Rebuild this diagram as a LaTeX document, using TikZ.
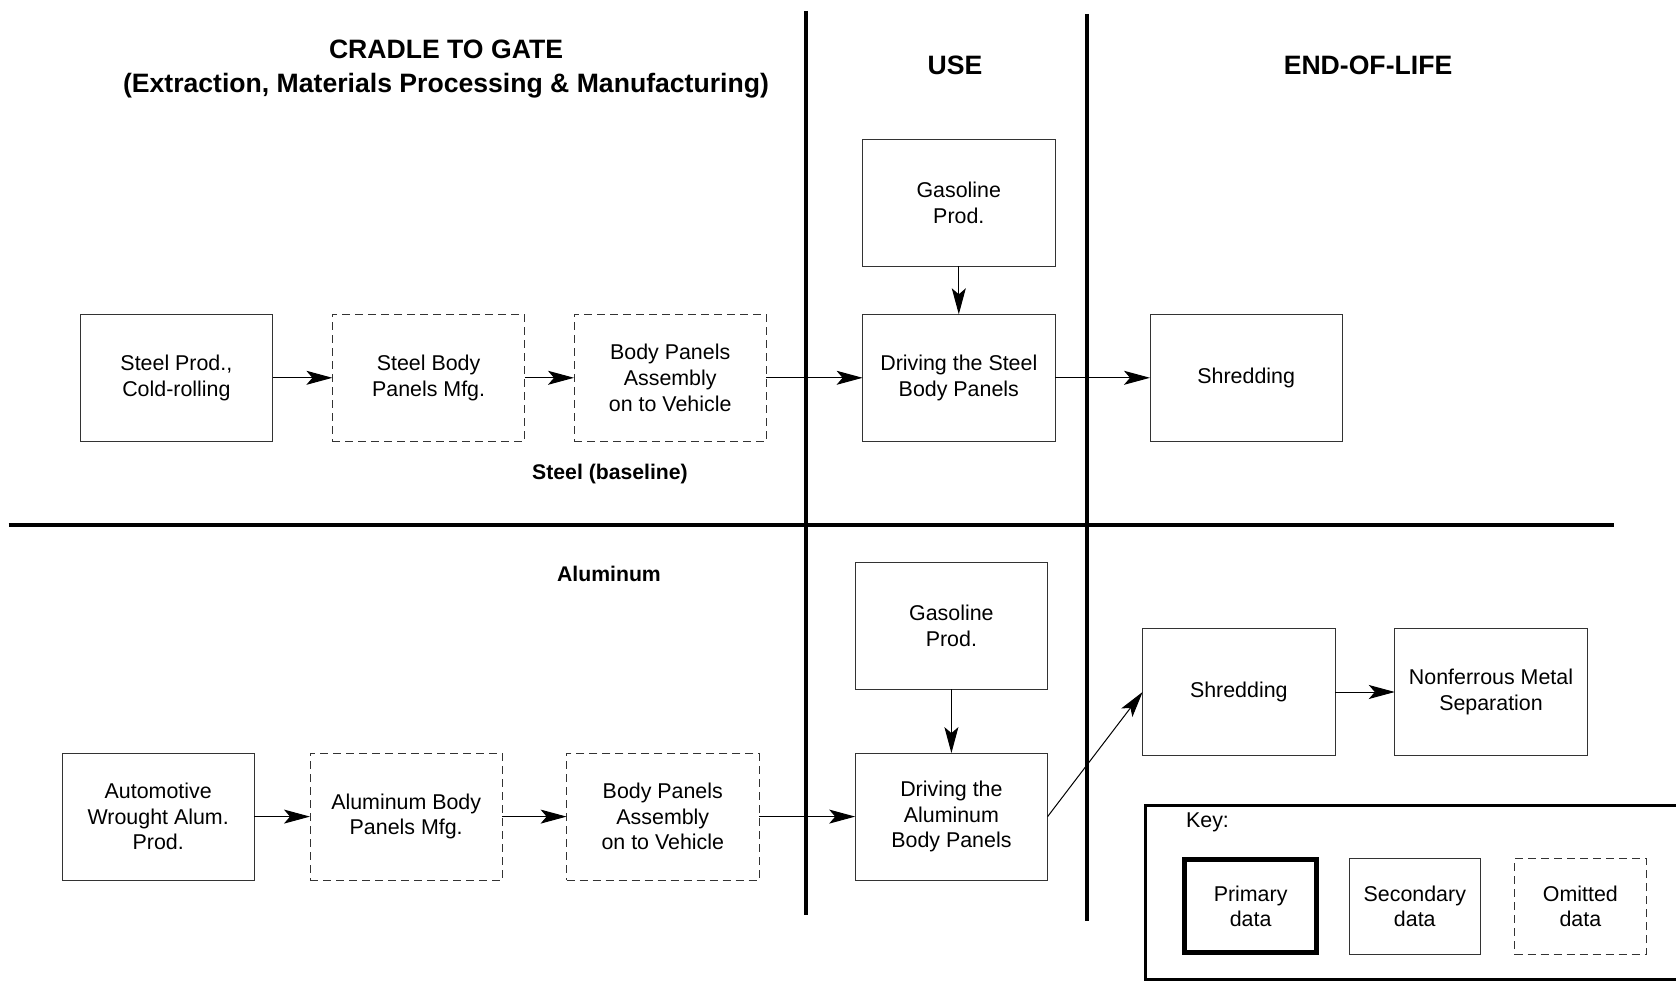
\documentclass[tikz,border=0pt]{standalone}
\usepackage{fontspec}
\setmainfont{Liberation Sans}
\usetikzlibrary{positioning, arrows.meta}

\begin{document}
\begin{tikzpicture}[
    stage/.style={draw=black!80, line width=0.5pt, rectangle, outer sep=0pt, minimum width=96.2pt, minimum height=63.5pt, align=center, font=\fontsize{10.7}{12.8}\selectfont},
    omitted/.style={stage, dash pattern=on 4pt off 2.5pt},
    primary/.style={stage, draw=black, line width=2.5pt},
    flow/.style={-{Stealth[length=13pt, width=7pt, inset=3pt]}, line width=0.5pt},
    divider/.style={line width=2.2pt},
    phase/.style={font=\fontsize{13.3}{17}\selectfont\bfseries, align=center},
    material/.style={font=\fontsize{10.6}{12.8}\selectfont\bfseries},
    keylabel/.style={font=\fontsize{10.7}{12.8}\selectfont}
]
\useasboundingbox (0pt,0pt) rectangle (838pt,490.5pt);

% Trennlinien der Lebensphasen
\draw[divider] (403pt,485pt) -- (403pt,33pt);
\draw[divider] (543.5pt,483.5pt) -- (543.5pt,30pt);
\draw[divider] (4.25pt,228pt) -- (807pt,228pt);

% Phasenueberschriften
\node[phase] (cradle) at (223pt,455.9pt) {CRADLE TO GATE\\(Extraction, Materials Processing \& Manufacturing)};
\node[phase] (use) at (477.5pt,458pt) {USE};
\node[phase] (eol) at (684pt,458pt) {END-OF-LIFE};

% Stahl (obere Haelfte)
\node[stage] (sprod) at (88.2pt,301.6pt) {Steel Prod.,\\Cold-rolling};
\node[omitted, right=29.9pt of sprod] (smfg) {Steel Body\\Panels Mfg.};
\node[omitted, right=24.6pt of smfg] (sasm) {Body Panels\\Assembly\\on to Vehicle};
\node[stage, right=48.1pt of sasm] (sdrive) {Driving the Steel\\Body Panels};
\node[stage, above=24pt of sdrive] (sgas) {Gasoline\\Prod.};
\node[stage, right=47.5pt of sdrive] (sshred) {Shredding};
\node[material] (steellbl) at (305pt,253.4pt) {Steel (baseline)};

% Aluminium (untere Haelfte)
\node[material] (alumlbl) at (304.5pt,203.5pt) {Aluminum};
\node[stage] (aprod) at (79.1pt,82.2pt) {Automotive\\Wrought Alum.\\Prod.};
\node[omitted, right=27.8pt of aprod] (amfg) {Aluminum Body\\Panels Mfg.};
\node[omitted, right=32.1pt of amfg] (aasm) {Body Panels\\Assembly\\on to Vehicle};
\node[stage, right=48.1pt of aasm] (adrive) {Driving the\\Aluminum\\Body Panels};
\node[stage, above=32pt of adrive] (agas) {Gasoline\\Prod.};
\node[stage] (ashred) at (619.4pt,144.5pt) {Shredding};
\node[stage, right=29.9pt of ashred] (anfm) {Nonferrous Metal\\Separation};

% Kanten
\draw[flow] (sprod) -- (smfg);
\draw[flow] (smfg) -- (sasm);
\draw[flow] (sasm) -- (sdrive);
\draw[flow] (sgas) -- (sdrive);
\draw[flow] (sdrive) -- (sshred);

\draw[flow] (aprod) -- (amfg);
\draw[flow] (amfg) -- (aasm);
\draw[flow] (aasm) -- (adrive);
\draw[flow] (agas) -- (adrive);
\draw[flow] (adrive.east) -- (ashred.west);
\draw[flow] (ashred) -- (anfm);

% Legende (rechts abgeschnitten)
\draw[line width=1.5pt] (838pt,88pt) -| (572.5pt,1pt) -- (838pt,1pt);
\node[keylabel, anchor=west] (keytitle) at (589.5pt,79.5pt) {Key:};
\node[primary, minimum width=66pt, minimum height=46.5pt] (kprim) at (625.3pt,37.3pt) {Primary\\data};
\node[stage, minimum width=65.8pt, minimum height=48pt] (ksec) at (707.4pt,37.3pt) {Secondary\\data};
\node[omitted, minimum width=65.8pt, minimum height=48pt] (komit) at (790.2pt,37.3pt) {Omitted\\data};

\end{tikzpicture}
\end{document}
